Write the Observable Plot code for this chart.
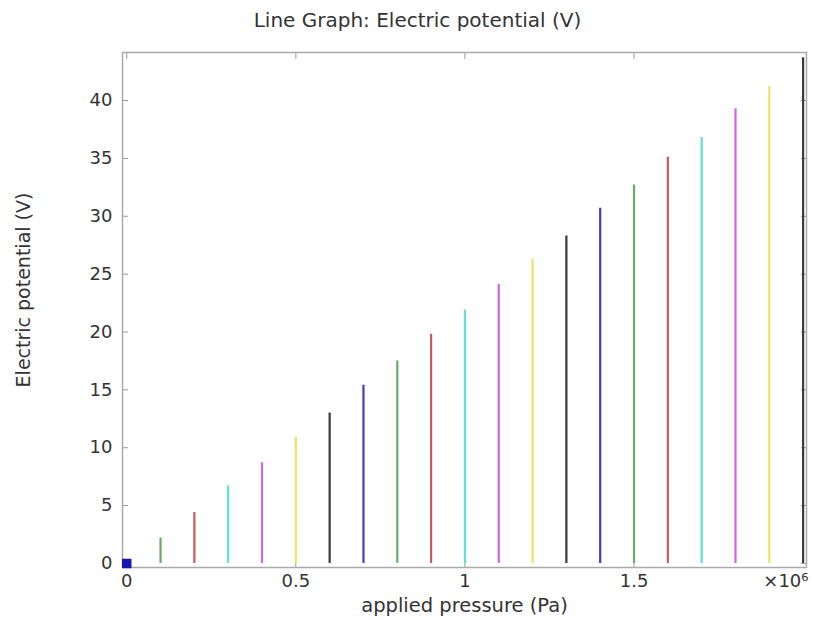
<!DOCTYPE html>
<html>
<head>
<meta charset="utf-8">
<script src="https://cdn.jsdelivr.net/npm/d3@7"></script>
<script src="https://cdn.jsdelivr.net/npm/@observablehq/plot@0.6"></script>
<style>
  body { margin: 0; background: #fff; font-family: "DejaVu Sans", sans-serif; }
  #title { height: 40px; line-height: 40px; text-align: center; font-size: 20px; color: #333; width: 813px; padding-left: 22px; box-sizing: border-box; }
</style>
</head>
<body>
<div id="title">Line Graph: Electric potential (V)</div>
<div id="chart"></div>
<script>
// applied pressure in units of 10^6 Pa
const pressure = [0, 0.1, 0.2, 0.3, 0.4, 0.5, 0.6, 0.7, 0.8, 0.9, 1.0, 1.1, 1.2, 1.3, 1.4, 1.5, 1.6, 1.7, 1.8, 1.9, 2.0];
// electric potential (V)
const potential = [0, 2.2, 4.4, 6.7, 8.7, 10.9, 13.0, 15.4, 17.5, 19.8, 21.9, 24.1, 26.3, 28.3, 30.7, 32.7, 35.1, 36.8, 39.3, 41.2, 43.7];
const colorCycle = ["#3d3dc8", "#6aaa6a", "#cc5a5a", "#5ce0e0", "#d066e0", "#f0e066", "#3a3a3a"];
const xTicks = [0, 0.5, 1, 1.5];
const yTicks = [0, 5, 10, 15, 20, 25, 30, 35, 40];
const xLabel = "applied pressure (Pa)";
const yLabel = "Electric potential (V)";
const xExponent = "×10⁶";

const data = pressure.map((p, i) => ({p, v: potential[i], c: colorCycle[i % colorCycle.length]}));
const tickStroke = "#999";

const chart = Plot.plot({
  width: 813,
  height: 580,
  marginTop: 12,
  marginBottom: 53,
  marginLeft: 122,
  marginRight: 7,
  style: {fontFamily: "DejaVu Sans, sans-serif", fontSize: "18px", color: "#333", background: "#fff"},
  x: {domain: [-0.0125, 2.01]},
  y: {domain: [-0.35, 44.15]},
  marks: [
    // inward ticks on all four sides
    Plot.axisX({anchor: "bottom", ticks: xTicks, tickSize: 6, dy: -6, stroke: tickStroke, tickFormat: () => "", label: null}),
    Plot.axisX({anchor: "top", ticks: xTicks, tickSize: 6, dy: 6, stroke: tickStroke, tickFormat: () => "", label: null}),
    Plot.axisY({anchor: "left", ticks: yTicks, tickSize: 6, dx: 6, stroke: tickStroke, tickFormat: () => "", label: null}),
    Plot.axisY({anchor: "right", ticks: yTicks, tickSize: 6, dx: -6, stroke: tickStroke, tickFormat: () => "", label: null}),
    Plot.frame({stroke: "#aaa", strokeWidth: 1.5}),
    // tick labels
    Plot.axisX({anchor: "bottom", ticks: xTicks, tickSize: 0, tickPadding: 7, tickFormat: d => String(d), label: null, fill: "#333"}),
    Plot.axisY({anchor: "left", ticks: yTicks, tickSize: 0, tickPadding: 10, label: null, fill: "#333"}),
    // data
    Plot.ruleX(data.filter(d => d.v > 0), {x: "p", y1: 0, y2: "v", stroke: "c", strokeWidth: 2.2}),
    Plot.dot(data.filter(d => d.v === 0), {x: "p", y: "v", symbol: "square", r: 4.5, fill: "#1414b4", stroke: "#1414b4"}),
    // axis titles
    Plot.text([xExponent], {frameAnchor: "bottom-right", dy: 19, dx: 2, textAnchor: "end", fontSize: 18, fill: "#333"}),
    Plot.text([xLabel], {frameAnchor: "bottom", dy: 44, fontSize: 19.5, fill: "#333"}),
    Plot.text([yLabel], {frameAnchor: "left", dx: -99, dy: -20, rotate: -90, textAnchor: "middle", fontSize: 19, fill: "#333"})
  ]
});
document.getElementById("chart").appendChild(chart);
</script>
</body>
</html>
